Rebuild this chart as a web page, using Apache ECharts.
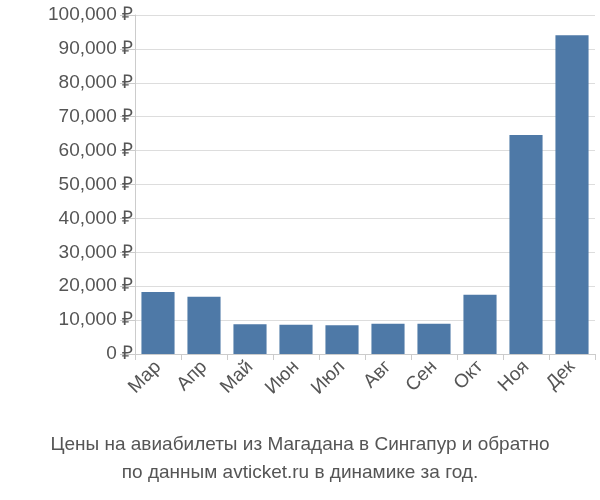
<!DOCTYPE html>
<html>
<head>
<meta charset="utf-8">
<script src="https://cdn.jsdelivr.net/npm/echarts@6/dist/echarts.min.js"></script>
<style>body{margin:0}#c{width:600px;height:500px}</style>
</head>
<body>
<div id="c"></div>
<script>
// месяцы и цены
var months = ['Мар','Апр','Май','Июн','Июл','Авг','Сен','Окт','Ноя','Дек'];
var prices = [18300, 16900, 8800, 8600, 8500, 8900, 8900, 17500, 64600, 94000];

var chart = echarts.init(document.getElementById('c'));
var option = {
	animation: false,
	textStyle: { fontFamily: 'Liberation Sans' },
	title: {
		text: 'Цены на авиабилеты из Магадана в Сингапур и обратно\nпо данным avticket.ru в динамике за год.',
		left: 'center',
		bottom: 8,
		textStyle: { fontSize: 19, fontWeight: 'normal', color: '#555', lineHeight: 28, fontFamily: 'Liberation Sans' }
	},
	grid: { left: 135, right: 5, top: 15, bottom: 146 },
	xAxis: {
		type: 'category',
		data: months,
		axisLine: { lineStyle: { color: '#ccc' } },
		axisTick: { show: true, length: 6, lineStyle: { color: '#ccc' } },
		axisLabel: { rotate: 45, fontSize: 19, color: '#555', margin: 10 }
	},
	yAxis: {
		type: 'value',
		min: 0,
		max: 100000,
		interval: 10000,
		axisLine: { show: true, lineStyle: { color: '#ccc' } },
		axisTick: { show: true, length: 15, lineStyle: { color: '#ccc' } },
		splitLine: { lineStyle: { color: '#ddd' } },
		axisLabel: { fontSize: 19, color: '#555', margin: 2, formatter: '{value} ₽' }
	},
	series: [{
		type: 'bar',
		data: prices,
		barCategoryGap: '28%',
		itemStyle: { color: '#4e79a7' }
	}]
};
chart.setOption(option);
</script>
</body>
</html>
